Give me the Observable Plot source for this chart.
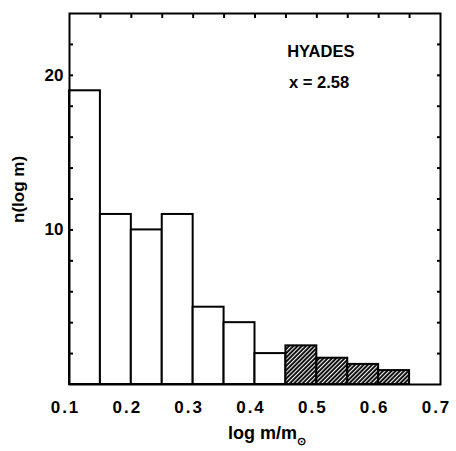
<!DOCTYPE html>
<html><head><meta charset="utf-8">
<script src="https://cdn.jsdelivr.net/npm/d3@7"></script>
<script src="https://cdn.jsdelivr.net/npm/@observablehq/plot@0.6"></script>
<style>body{margin:0;background:#fff} svg{display:block}</style>
</head><body><div id="chart"></div>
<script>
const binLo = [0.10, 0.15, 0.20, 0.25, 0.30, 0.35, 0.40, 0.45, 0.50, 0.55, 0.60];
const binHi = [0.15, 0.20, 0.25, 0.30, 0.35, 0.40, 0.45, 0.50, 0.55, 0.60, 0.65];
const counts = [19, 11, 10, 11, 5, 4, 2, 2.5, 1.7, 1.3, 0.9];
const hatched = [false, false, false, false, false, false, false, true, true, true, true];
const xTicks = [0.1, 0.2, 0.3, 0.4, 0.5, 0.6, 0.7];
const xTickLabels = ["0.1", "0.2", "0.3", "0.4", "0.5", "0.6", "0.7"];
const xMinorTicks = [0.15, 0.2, 0.25, 0.3, 0.35, 0.4, 0.45, 0.5, 0.55, 0.6, 0.65];
const yTicks = [10, 20];
const yMinorTicks = [2, 4, 6, 8, 10, 12, 14, 16, 18, 20, 22];
const noteText = ["HYADES", "x = 2.58"];
const noteX = [0.452, 0.455];
const noteY = [21.5, 19.55];
const xLabel = "log m/m⊙";
const yLabel = "n(log m)";

const bars = binLo.map((lo, i) => ({lo, hi: binHi[i], n: counts[i], h: hatched[i]}));
const notes = noteText.map((t, i) => ({t, x: noteX[i], y: noteY[i]}));
const blank = () => "";

const chart = Plot.plot({
  width: 456, height: 451,
  marginLeft: 69, marginRight: 16, marginTop: 13, marginBottom: 67,
  x: {domain: [0.1, 0.7]},
  y: {domain: [0, 24]},
  style: {fontFamily: "'Liberation Sans', sans-serif", fontSize: "17px", color: "black", background: "white"},
  marks: [
    Plot.rectY(bars.filter(d => !d.h), {x1: "lo", x2: "hi", y: "n", fill: "white", stroke: "black", strokeWidth: 2}),
    Plot.rectY(bars.filter(d => d.h), {x1: "lo", x2: "hi", y: "n", fill: "url(#hatch)", stroke: "black", strokeWidth: 2}),
    Plot.axisX(xTicks, {anchor: "bottom", tickSize: 0, tickPadding: 16, dx: -4, tickFormat: d => xTickLabels[xTicks.indexOf(d)], label: null, fontSize: 17, fontWeight: "bold", className: "xtl"}),
    Plot.axisX(xMinorTicks, {anchor: "top", tickSize: -4, tickFormat: blank, label: null, strokeWidth: 2}),
    Plot.axisY(yTicks, {anchor: "left", tickSize: 0, tickPadding: 6, label: null, fontSize: 17, fontWeight: "bold"}),
    Plot.axisY(yMinorTicks, {anchor: "left", tickSize: -4, tickFormat: blank, label: null, strokeWidth: 2}),
    Plot.axisY(yMinorTicks, {anchor: "right", tickSize: -4, tickFormat: blank, label: null, strokeWidth: 2}),
    Plot.frame({stroke: "black", strokeWidth: 2}),
    Plot.text(notes, {x: "x", y: "y", text: "t", textAnchor: "start", fontSize: 16.5, fontWeight: 600}),
    Plot.text([yLabel], {frameAnchor: "left", dx: -51, dy: 24, rotate: -90, fontSize: 17, fontWeight: "bold"}),
    Plot.text([xLabel], {frameAnchor: "bottom", dx: 12, dy: 54, fontSize: 18, fontWeight: "bold"})
  ]
});

const svg = d3.select(chart);
const pat = svg.insert("defs", ":first-child")
  .append("pattern").attr("id", "hatch").attr("patternUnits", "userSpaceOnUse")
  .attr("width", 3).attr("height", 3).attr("patternTransform", "rotate(45)");
pat.append("rect").attr("width", 3).attr("height", 3).attr("fill", "black");
pat.append("line").attr("x1", 0.6).attr("y1", 0).attr("x2", 0.6).attr("y2", 3)
  .attr("stroke", "white").attr("stroke-width", 1.1);

svg.selectAll(".xtl text").attr("letter-spacing", 2);

svg.selectAll("text").filter(function() { return this.textContent === xLabel; })
  .each(function() {
    const t = d3.select(this);
    t.text("log m/m");
    t.append("tspan").attr("dy", 6).attr("font-size", 11).text("⊙");
  });

document.getElementById("chart").appendChild(chart);
</script>
</body></html>
